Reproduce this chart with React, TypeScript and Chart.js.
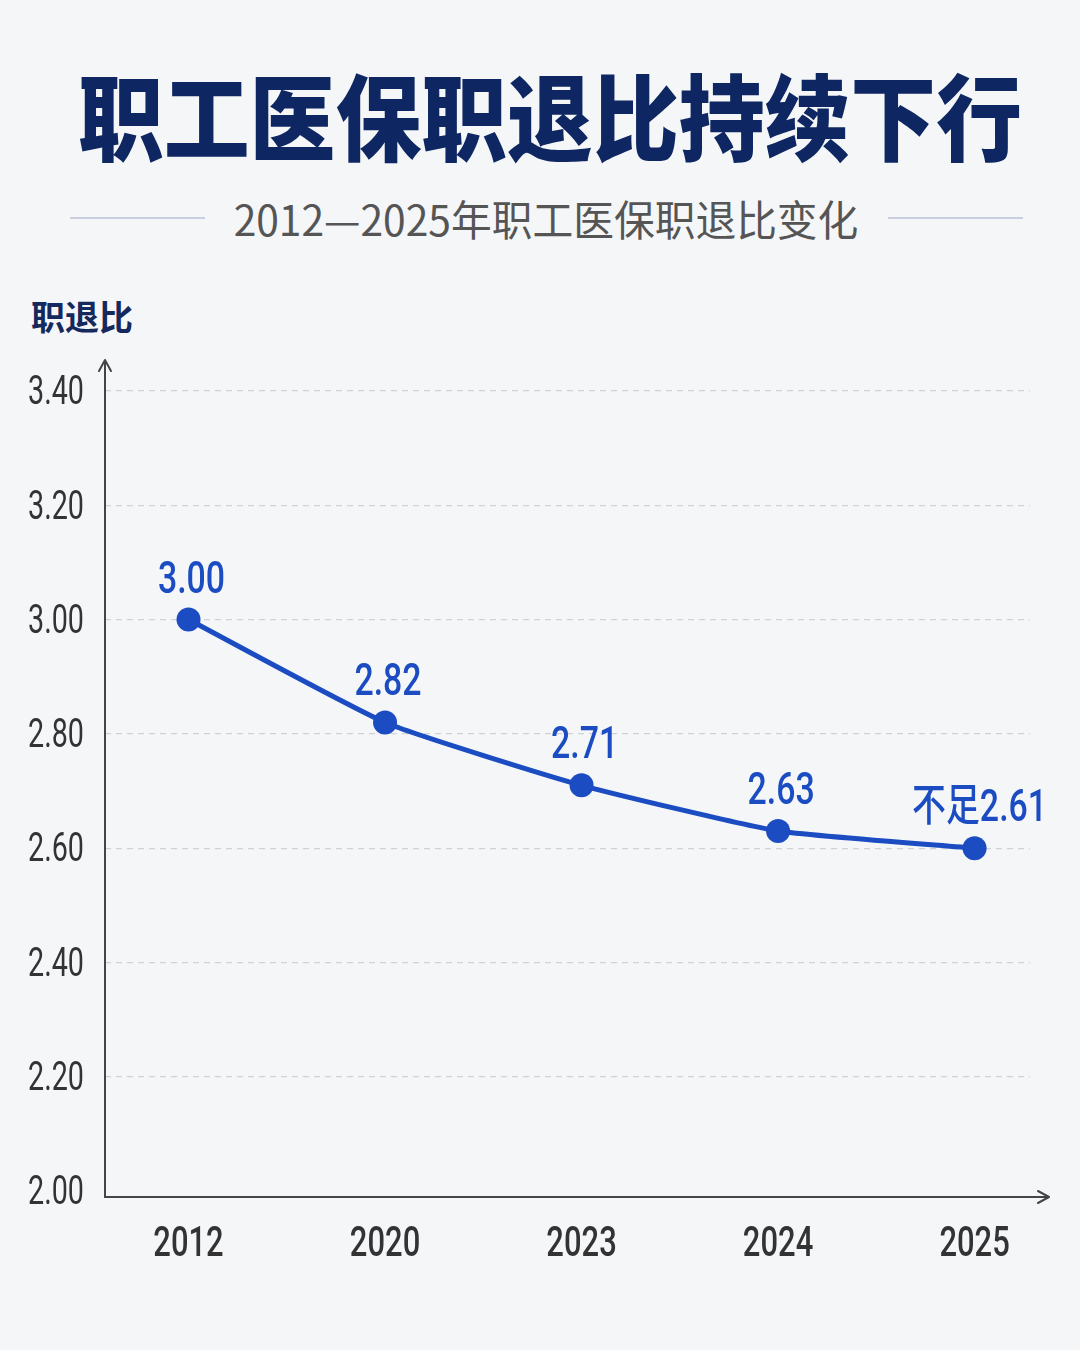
import React, { useEffect, useRef } from "react";
import { Chart, registerables } from "chart.js";

Chart.register(...registerables);

const years = ["2012", "2020", "2023", "2024", "2025"];
const ratios = [3.0, 2.82, 2.71, 2.63, 2.6];
const valueLabels = ["3.00", "2.82", "2.71", "2.63", "不足2.61"];
const yTickValues = [2.0, 2.2, 2.4, 2.6, 2.8, 3.0, 3.2, 3.4];

const FAMILY = "Roboto, 'Noto Sans CJK SC', sans-serif";
const BLUE = "#1b4cc2";
const AXIS = "#454545";

function drawCondensed(ctx: any, text: string, x: number, y: number, sx: number, align: string) {
  ctx.save();
  ctx.translate(x, y);
  ctx.scale(sx, 1);
  ctx.textAlign = align;
  ctx.textBaseline = "middle";
  ctx.fillText(text, 0, 0);
  ctx.restore();
}

const arrowAxesPlugin = {
  id: "arrowAxes",
  beforeDatasetsDraw(chart: any) {
    const { ctx, chartArea } = chart;
    const x0 = chartArea.left;
    const yb = chartArea.bottom + 6;
    ctx.save();
    ctx.strokeStyle = AXIS;
    ctx.lineWidth = 2;
    ctx.lineCap = "round";
    ctx.lineJoin = "round";
    ctx.beginPath();
    ctx.moveTo(x0, yb);
    ctx.lineTo(x0, chartArea.top - 30);
    ctx.stroke();
    ctx.beginPath();
    ctx.moveTo(x0 - 6, chartArea.top - 20);
    ctx.lineTo(x0, chartArea.top - 31);
    ctx.lineTo(x0 + 6, chartArea.top - 20);
    ctx.stroke();
    const xe = chartArea.right + 18;
    ctx.beginPath();
    ctx.moveTo(x0, yb);
    ctx.lineTo(xe, yb);
    ctx.stroke();
    ctx.beginPath();
    ctx.moveTo(xe - 10, yb - 6);
    ctx.lineTo(xe + 1, yb);
    ctx.lineTo(xe - 10, yb + 6);
    ctx.stroke();
    ctx.restore();
  },
};

// tick labels drawn in a condensed face, positioned by the chart's own scales
const condensedTicksPlugin = {
  id: "condensedTicks",
  afterDraw(chart: any) {
    const { ctx, scales, chartArea } = chart;
    ctx.save();
    ctx.fillStyle = "#333333";
    ctx.font = `400 41px ${FAMILY}`;
    scales.y.ticks.forEach((t: any) => {
      const y = scales.y.getPixelForValue(t.value);
      drawCondensed(ctx, Number(t.value).toFixed(2), chartArea.left - 21, y + 3, 0.7, "right");
    });
    ctx.font = `500 43px ${FAMILY}`;
    scales.x.ticks.forEach((t: any) => {
      const x = scales.x.getPixelForValue(t.value);
      const label = years[t.value] ?? "";
      drawCondensed(ctx, label, x, chartArea.bottom + 54, 0.72, "center");
    });
    ctx.restore();
  },
};

const valueLabelPlugin = {
  id: "valueLabels",
  afterDatasetsDraw(chart: any) {
    const { ctx } = chart;
    const meta = chart.getDatasetMeta(0);
    ctx.save();
    ctx.fillStyle = BLUE;
    ctx.font = `500 44px ${FAMILY}`;
    meta.data.forEach((pt: any, i: number) => {
      const dx = i === meta.data.length - 1 ? 5 : 3;
      drawCondensed(ctx, valueLabels[i], pt.x + dx, pt.y - 38, 0.77, "center");
    });
    ctx.restore();
  },
};

export default function App() {
  const canvasRef = useRef<HTMLCanvasElement | null>(null);

  useEffect(() => {
    document.body.style.margin = "0";
    const canvas = canvasRef.current;
    if (!canvas) return;
    const chart = new Chart(canvas, {
      type: "line",
      data: {
        labels: years,
        datasets: [
          {
            data: ratios.map((v, i) => ({ x: i, y: v })),
            borderColor: BLUE,
            backgroundColor: BLUE,
            borderWidth: 5,
            pointRadius: 12,
            pointBackgroundColor: BLUE,
            pointBorderColor: BLUE,
            pointBorderWidth: 0,
            tension: 0.15,
            fill: false,
          },
        ],
      },
      options: {
        animation: false,
        responsive: false,
        maintainAspectRatio: false,
        layout: { padding: { top: 391, left: 0, right: 50, bottom: 79 } },
        plugins: {
          legend: { display: false },
          tooltip: { enabled: false },
          title: { display: false },
        },
        scales: {
          x: {
            type: "linear",
            min: -0.425,
            max: 4.282,
            afterBuildTicks(scale: any) {
              scale.ticks = years.map((_, i) => ({ value: i }));
            },
            afterFit(scale: any) {
              scale.height = 80;
            },
            grid: { display: false, drawTicks: false },
            border: { display: false },
            ticks: {
              display: false,
              callback: (v: any) => years[v] ?? "",
            },
          },
          y: {
            min: 2.0,
            max: 3.4,
            afterBuildTicks(scale: any) {
              scale.ticks = yTickValues.map((v) => ({ value: v }));
            },
            afterFit(scale: any) {
              scale.width = 105;
            },
            grid: {
              color: (ctx: any) => (ctx.tick && ctx.tick.value === 2.0 ? "rgba(0,0,0,0)" : "#cfd3d9"),
              lineWidth: 1.2,
              drawTicks: false,
            },
            border: { display: false, dash: [6, 5] },
            ticks: {
              display: false,
              callback: (v: any) => Number(v).toFixed(2),
            },
          },
        },
      },
      plugins: [arrowAxesPlugin, valueLabelPlugin, condensedTicksPlugin],
    });
    return () => chart.destroy();
  }, []);

  return (
    <div
      style={{
        position: "absolute",
        left: 0,
        top: 0,
        width: 1080,
        height: 1350,
        background: "#f5f6f8",
        overflow: "hidden",
      }}
    >
      <div
        style={{
          position: "absolute",
          left: 10,
          top: 53,
          width: 1080,
          textAlign: "center",
          fontFamily: "'Noto Sans CJK SC', sans-serif",
          fontWeight: 900,
          fontSize: 94,
          lineHeight: "120px",
          color: "#0e2762",
          transform: "scaleX(0.913)",
          transformOrigin: "540px 50%",
        }}
      >
        职工医保职退比持续下行
      </div>
      <div
        style={{
          position: "absolute",
          left: 70,
          top: 217,
          width: 135,
          height: 2,
          background: "#c9cee0",
        }}
      />
      <div
        style={{
          position: "absolute",
          left: 888,
          top: 217,
          width: 135,
          height: 2,
          background: "#c9cee0",
        }}
      />
      <div
        style={{
          position: "absolute",
          left: 146,
          top: 192,
          width: 800,
          textAlign: "center",
          fontFamily: "'Noto Sans CJK SC', sans-serif",
          fontWeight: 400,
          fontSize: 42,
          lineHeight: "52px",
          color: "#555555",
          transform: "scaleX(0.97)",
          transformOrigin: "400px 50%",
        }}
      >
        2012—2025年职工医保职退比变化
      </div>
      <div
        style={{
          position: "absolute",
          left: 31,
          top: 292,
          fontFamily: "'Noto Sans CJK SC', sans-serif",
          fontWeight: 700,
          fontSize: 34,
          lineHeight: "48px",
          color: "#15295c",
        }}
      >
        职退比
      </div>
      <canvas
        ref={canvasRef}
        width={1080}
        height={1350}
        style={{ position: "absolute", left: 0, top: 0, width: 1080, height: 1350 }}
      />
    </div>
  );
}
